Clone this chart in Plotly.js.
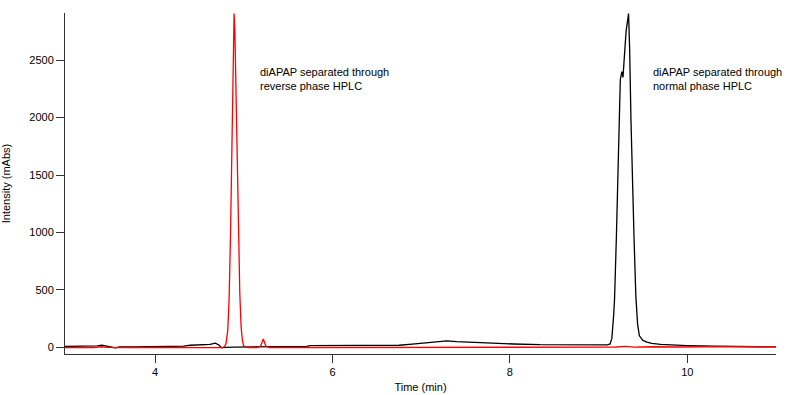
<!DOCTYPE html>
<html>
<head>
<meta charset="utf-8">
<script src="https://cdn.plot.ly/plotly-3.0.1.min.js"></script>
<style>
  html, body { margin: 0; padding: 0; background: #fff; }
  #chart { width: 800px; height: 395px; }
</style>
</head>
<body>
<div id="chart"></div>
<script>
// Normal phase HPLC trace (black)
const blackTime = [2.985, 3.2, 3.35, 3.40, 3.45, 3.5, 3.55, 3.6, 3.8, 4.0, 4.2, 4.32, 4.4, 4.55, 4.62, 4.68, 4.72, 4.75, 4.78, 4.9, 5.1, 5.3, 5.5, 5.71, 5.75, 6.0, 6.3, 6.6, 6.75, 6.9, 7.1, 7.29, 7.4, 7.6, 7.8, 8.04, 8.34, 8.6, 9.02, 9.10, 9.13, 9.15, 9.17, 9.18, 9.20, 9.22, 9.23, 9.245, 9.255, 9.263, 9.275, 9.29, 9.31, 9.338, 9.35, 9.365, 9.38, 9.40, 9.42, 9.44, 9.46, 9.50, 9.545, 9.60, 9.70, 9.84, 10.0, 10.3, 10.52, 10.8, 11.0];
const blackIntensity = [8, 8, 12, 20, 14, 5, -5, 3, 4, 5, 6, 10, 18, 20, 25, 37, 20, -5, 0, 2, 3, 2, 5, 8, 15, 15, 15, 16, 18, 28, 42, 57, 50, 42, 35, 29, 23, 21, 20, 22, 30, 80, 280, 420, 940, 1600, 1980, 2330, 2370, 2400, 2350, 2500, 2750, 2905, 2600, 1980, 1450, 940, 450, 200, 100, 60, 45, 35, 25, 20, 15, 10, 5, 5, 5];

// Reverse phase HPLC trace (red)
const redTime = [2.985, 3.3, 3.4, 3.45, 3.6, 4.0, 4.4, 4.6, 4.7, 4.75, 4.78, 4.80, 4.82, 4.835, 4.85, 4.865, 4.88, 4.891, 4.90, 4.915, 4.93, 4.94, 4.955, 4.97, 4.985, 5.0, 5.05, 5.15, 5.19, 5.22, 5.25, 5.29, 5.4, 5.45, 5.5, 5.7, 6.0, 7.0, 8.0, 9.0, 9.2, 9.3, 9.4, 9.6, 9.8, 9.9, 10.2, 11.0];
const redIntensity = [-2, -2, 5, 0, -3, -3, -3, -2, -3, -2, 5, 30, 150, 420, 940, 1700, 2500, 2905, 2750, 2100, 1350, 940, 480, 180, 60, 10, -3, -3, 10, 72, 10, -3, 0, -5, -2, -3, -3, -2, -1, 0, 3, 8, 2, 5, 8, 3, 5, 5];

const xTicks = [4, 6, 8, 10];
const yTicks = [0, 500, 1000, 1500, 2000, 2500];
const labelRed = "diAPAP separated through<br>reverse phase HPLC";
const labelBlack = "diAPAP separated through<br>normal phase HPLC";

const font = {family: "Arial, 'Liberation Sans', sans-serif", size: 11, color: "#000"};

const traces = [
  {x: blackTime, y: blackIntensity, type: "scatter", mode: "lines",
   line: {color: "#000000", width: 1.3}, hoverinfo: "skip"},
  {x: redTime, y: redIntensity, type: "scatter", mode: "lines",
   line: {color: "#ff0000", width: 1.3}, hoverinfo: "skip"}
];

const layout = {
  width: 800, height: 395,
  margin: {l: 65, r: 24, t: 13, b: 41},
  paper_bgcolor: "#fff", plot_bgcolor: "#fff",
  showlegend: false,
  font: font,
  xaxis: {
    range: [2.985, 11.0], tickvals: xTicks, ticktext: xTicks.map(String),
    showgrid: false, zeroline: false, showline: true, linecolor: "#333", linewidth: 1,
    ticks: "outside", ticklen: 8, tickcolor: "#333", tickwidth: 1,
    tickfont: font,
    title: {text: "Time (min)", font: font, standoff: 6}
  },
  yaxis: {
    range: [-58, 2910], tickvals: yTicks, ticktext: yTicks.map(String),
    showgrid: false, zeroline: false, showline: true, linecolor: "#333", linewidth: 1,
    ticks: "outside", ticklen: 8, tickcolor: "#333", tickwidth: 1,
    tickfont: font,
    title: {text: "Intensity (mAbs)", font: font, standoff: 16}
  },
  annotations: [
    {x: 5.16, y: 2465, xref: "x", yref: "y", xanchor: "left", yanchor: "top",
     text: labelRed, showarrow: false, align: "left", font: font},
    {x: 9.59, y: 2465, xref: "x", yref: "y", xanchor: "left", yanchor: "top",
     text: labelBlack, showarrow: false, align: "left", font: font}
  ]
};

Plotly.newPlot("chart", traces, layout, {staticPlot: true, displayModeBar: false});
</script>
</body>
</html>
